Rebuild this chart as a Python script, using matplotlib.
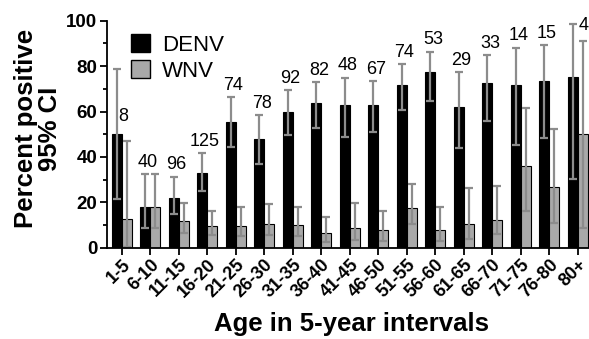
import numpy as np
import matplotlib.pyplot as plt
from matplotlib.patches import Patch

plt.rcParams['font.family'] = ['Liberation Sans', 'DejaVu Sans']

# age groups and sample sizes
ages = ['1-5', '6-10', '11-15', '16-20', '21-25', '26-30', '31-35', '36-40', '41-45',
        '46-50', '51-55', '56-60', '61-65', '66-70', '71-75', '76-80', '80+']
n_tested = [8, 40, 96, 125, 74, 78, 92, 82, 48, 67, 74, 53, 29, 33, 14, 15, 4]

# percent positive with 95% CI
denv = [50, 17.8, 22, 33, 55.5, 47.7, 59.9, 63.6, 62.7, 62.7, 71.8, 77.4, 62.1, 72.7, 71.5, 73.4, 75.3]
denv_lo = [21.3, 8.5, 14.7, 25.1, 44.5, 36.9, 49.6, 52.9, 48.6, 50.8, 60.7, 64.5, 44, 55.9, 45.2, 48.5, 30.1]
denv_hi = [78.6, 32.5, 31.3, 41.6, 66.3, 58.5, 69.5, 73, 74.8, 73.4, 80.8, 86.3, 77.3, 84.9, 88.1, 89.3, 98.5]

wnv = [12.6, 17.8, 11.8, 9.7, 9.6, 10.4, 9.9, 6.3, 8.5, 7.7, 17.6, 7.8, 10.3, 12.2, 36, 26.6, 50.1]
wnv_lo = [0.3, 8.5, 6.5, 5.5, 5, 5.5, 5, 2.5, 3.5, 3, 10.5, 3, 4, 6, 16.3, 11, 8.8]
wnv_hi = [47.1, 32.5, 19.6, 16.2, 18, 19.1, 17.8, 13.7, 19.8, 16.3, 27.9, 17.8, 26.4, 27.3, 61.4, 52.2, 91.2]

x = np.arange(len(ages))
w = 0.35
err_color = '#8c8c8c'
err_kw = dict(ecolor=err_color, elinewidth=1.6, capsize=2.6, capthick=1.6)

fig = plt.figure(figsize=(5.89, 3.39), dpi=100)
ax = fig.add_axes([107 / 589, 1 - 247.7 / 339, 482 / 589, 227 / 339])

d = np.array(denv)
v = np.array(wnv)
ax.bar(x - w / 2, d, w, color='black', edgecolor='black', linewidth=0.8,
       yerr=[d - np.array(denv_lo), np.array(denv_hi) - d], error_kw=err_kw, zorder=2)
ax.bar(x + w / 2, v, w, color='#a9a9a9', edgecolor='black', linewidth=0.8,
       yerr=[v - np.array(wnv_lo), np.array(wnv_hi) - v], error_kw=err_kw, zorder=2)

# sample size labels above the bars
for i, n in enumerate(n_tested):
    if i == 0 or i == len(ages) - 1:
        # these sit beside the DENV bar, above the WNV interval
        ax.text(x[i] + 0.05 + (0.17 if i else 0), wnv_hi[i] + (7 if i == 0 else 3), str(n),
                ha='center', va='bottom', fontsize=13, clip_on=False)
    else:
        ax.text(x[i] - 0.08, max(denv_hi[i], wnv_hi[i]) + 1.5, str(n),
                ha='center', va='bottom', fontsize=13)

ax.set_xlim(-0.52, -0.52 + 482 / 28.5)
ax.set_ylim(0, 100)
ax.set_yticks(np.arange(0, 101, 20))
ax.set_yticks(np.arange(0, 101, 10), minor=True)
ax.set_xticks(x)
ax.set_xticklabels(ages, rotation=45, ha='right', rotation_mode='anchor',
                   fontweight='bold', fontsize=13)
for lab in ax.get_yticklabels():
    lab.set_fontweight('bold')
ax.tick_params(axis='y', labelsize=13.5, width=1.3, length=5, pad=2)
ax.tick_params(axis='y', which='minor', width=1.3, length=3)
ax.tick_params(axis='x', width=1.3, length=5, pad=1)

for s in ['top', 'right']:
    ax.spines[s].set_visible(False)
for s in ['left', 'bottom']:
    ax.spines[s].set_linewidth(1.3)

ax.set_ylabel('Percent positive\n95% CI', fontsize=18.5, fontweight='bold', linespacing=1.0)
ax.yaxis.set_label_coords(-0.093, 0.525)
ax.set_xlabel('Age in 5-year intervals', fontsize=18.5, fontweight='bold')
ax.xaxis.set_label_coords(0.508, -0.285)

handles = [Patch(facecolor='black', edgecolor='black', label='DENV'),
           Patch(facecolor='#a9a9a9', edgecolor='black', label='WNV')]
ax.legend(handles=handles, loc='upper left', bbox_to_anchor=(0.05, 0.94), frameon=False,
          fontsize=16, handlelength=0.85, handleheight=0.85, handletextpad=0.55,
          labelspacing=0.2, borderpad=0, borderaxespad=0)

fig.savefig('out.png', dpi=100)
